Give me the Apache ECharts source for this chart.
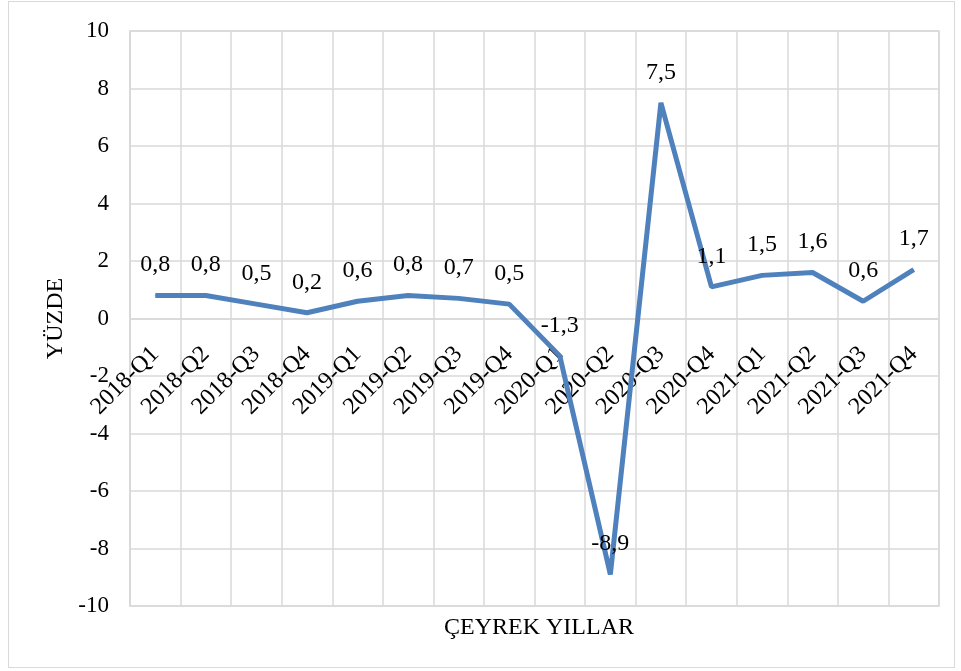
<!DOCTYPE html>
<html>
<head>
<meta charset="utf-8">
<script src="https://cdn.jsdelivr.net/npm/echarts@6/dist/echarts.min.js"></script>
<style>
  html, body { margin: 0; padding: 0; background: #fff; }
  #frame {
    position: absolute; left: 8px; top: 1px; width: 947px; height: 667px;
    border: 1.5px solid #d9d9d9; box-sizing: border-box;
  }
  #chart { position: absolute; left: 0; top: 0; width: 961px; height: 671px; }
</style>
</head>
<body>
<div id="frame"></div>
<div id="chart"></div>
<script>
const quarters = ['2018-Q1', '2018-Q2', '2018-Q3', '2018-Q4', '2019-Q1', '2019-Q2', '2019-Q3', '2019-Q4',
  '2020-Q1', '2020-Q2', '2020-Q3', '2020-Q4', '2021-Q1', '2021-Q2', '2021-Q3', '2021-Q4']
const growth = [0.8, 0.8, 0.5, 0.2, 0.6, 0.8, 0.7, 0.5, -1.3, -8.9, 7.5, 1.1, 1.5, 1.6, 0.6, 1.7]
const yTicks = { min: -10, max: 10, step: 2 }

const font = 'Liberation Serif, Times New Roman, serif'
const gridColor = '#d9d9d9'

// plot box: top 31, bottom 606 -> zero line sits in the middle
const plotTop = 31
const plotBottom = 606
const zeroY = (plotTop + plotBottom) / 2

const chart = echarts.init(document.getElementById('chart'))
chart.setOption({
  animation: false,
  title: {
    text: 'ÇEYREK YILLAR',
    left: 534,
    top: 611,
    textAlign: 'center',
    textStyle: { fontFamily: font, fontSize: 24, fontWeight: 'normal', color: '#000' }
  },
  grid: [
    {
      left: 130, right: 22, top: plotTop, bottom: 671 - plotBottom,
      outerBoundsMode: 'none',
      show: true, borderColor: gridColor, borderWidth: 1.5, backgroundColor: 'transparent'
    },
    // label-only grid whose bottom edge is the zero line
    {
      left: 130, right: 22, top: plotTop, bottom: 671 - zeroY,
      outerBoundsMode: 'none', show: false
    }
  ],
  xAxis: [
    {
      type: 'category',
      gridIndex: 0,
      data: quarters,
      boundaryGap: true,
      axisLine: { onZero: true, lineStyle: { color: gridColor, width: 1.5 } },
      axisTick: { show: false, interval: 0 },
      splitLine: { show: true, interval: 0, lineStyle: { color: gridColor, width: 1.5 } },
      axisLabel: { show: false, interval: 0 }
    },
    {
      type: 'category',
      gridIndex: 1,
      data: quarters,
      boundaryGap: true,
      axisLine: { show: false },
      axisTick: { show: false },
      splitLine: { show: false },
      axisLabel: {
        rotate: 45, margin: 32, interval: 0,
        fontFamily: font, fontSize: 24, color: '#000'
      }
    }
  ],
  yAxis: [
    {
      type: 'value',
      gridIndex: 0,
      min: yTicks.min, max: yTicks.max, interval: yTicks.step,
      name: 'YÜZDE',
      nameLocation: 'middle',
      nameGap: 60,
      nameRotate: 90,
      nameTextStyle: { fontFamily: font, fontSize: 24, color: '#000' },
      axisLine: { show: true, lineStyle: { color: gridColor, width: 1.5 } },
      axisTick: { show: false },
      splitLine: { lineStyle: { color: gridColor, width: 1.5 } },
      axisLabel: { margin: 21, fontFamily: font, fontSize: 23, color: '#000' }
    },
    {
      type: 'value',
      gridIndex: 1,
      show: false
    }
  ],
  series: [{
    type: 'line',
    xAxisIndex: 0,
    yAxisIndex: 0,
    data: growth,
    symbol: 'circle',
    symbolSize: 1,
    lineStyle: { color: '#4f81bd', width: 5 },
    itemStyle: { color: '#4f81bd' },
    label: {
      show: true, position: 'top', distance: 18,
      fontFamily: font, fontSize: 24, color: '#000',
      formatter: p => String(p.value).replace('.', ',')
    }
  }]
})
</script>
</body>
</html>
